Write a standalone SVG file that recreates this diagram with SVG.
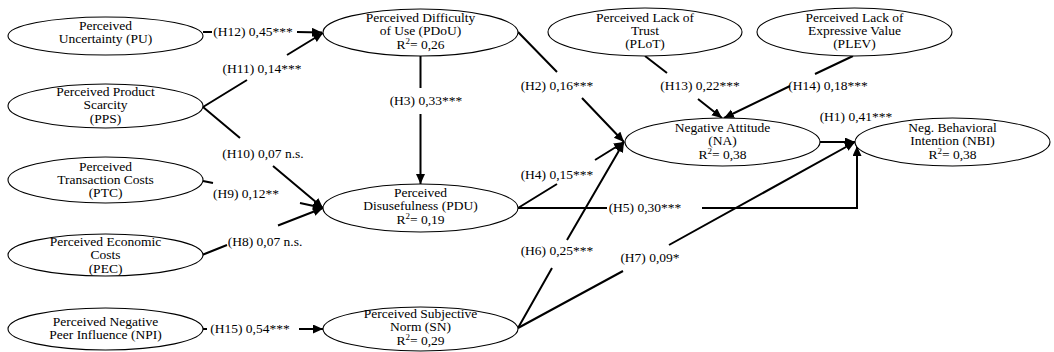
<svg xmlns="http://www.w3.org/2000/svg" width="1054" height="352" viewBox="0 0 1054 352">
<style>
text{font-family:"Liberation Serif","Times New Roman",serif;font-size:13.5px;fill:#000}
.n text{text-anchor:middle}
.n ellipse{fill:#fff;stroke:#000;stroke-width:1.1}
.c path{fill:none;stroke:#000;stroke-width:2;marker-end:url(#ah)}
.lbl text{text-anchor:middle}
.sup{font-size:9px}
</style>
<defs>
<marker id="ah" markerUnits="userSpaceOnUse" markerWidth="11" markerHeight="10" refX="10" refY="4.5" orient="auto">
<path d="M0,0 L10,4.5 L0,9 z" fill="#000"/>
</marker>
</defs>
<rect width="1054" height="352" fill="#fff"/>
<g id="connectors" class="c">
<path id="e-h12" d="M203,32 L212,32 M297,32 L322,32.5"/>
<path id="e-h11" d="M203,107 L247,80 M287,55 L323,33"/>
<path id="e-h10" d="M203,107 L240,138 M273,166 L323,208"/>
<path id="e-h9" d="M203,181 L213,183 M300,203 L323,208"/>
<path id="e-h8" d="M202,255 L227,245 M278,225.5 L323,208"/>
<path id="e-h15" d="M203,329 L207,329 M299,329 L323,329"/>
<path id="e-h3" d="M420.5,56 L420.5,88 M420.5,114 L420.5,184"/>
<path id="e-h2" d="M518,32 L557,72 M582,98 L624,142"/>
<path id="e-h4" d="M518,208 L557,184 M595,160 L624,142"/>
<path id="e-h5" d="M518,208 L607,208 M702,208 L857,208 L857,146"/>
<path id="e-h6" d="M518,328 L552,268 M567,240 L624,142"/>
<path id="e-h7" d="M518,328 L623,271 M669,245 L855,142"/>
<path id="e-h13" d="M645,56 L667,73 M698,99 L722,118"/>
<path id="e-h14" d="M853,56 L815,74 M790,86 L724,118"/>
<path id="e-h1" d="M820,142 L855,142"/>
</g>
<g id="labels" class="lbl">
<text x="253" y="36">(H12) 0,45***</text>
<text x="262" y="73">(H11) 0,14***</text>
<text x="263" y="158">(H10) 0,07 n.s.</text>
<text x="246" y="198">(H9) 0,12**</text>
<text x="265" y="246">(H8) 0,07 n.s.</text>
<text x="250" y="333">(H15) 0,54***</text>
<text x="426" y="105">(H3) 0,33***</text>
<text x="557" y="90">(H2) 0,16***</text>
<text x="557" y="179">(H4) 0,15***</text>
<text x="645" y="212">(H5) 0,30***</text>
<text x="557" y="255">(H6) 0,25***</text>
<text x="650" y="262">(H7) 0,09*</text>
<text x="700" y="90">(H13) 0,22***</text>
<text x="828" y="90">(H14) 0,18***</text>
<text x="856" y="121">(H1) 0,41***</text>
</g>
<g id="PU" class="n">
<ellipse cx="105.5" cy="36" rx="97.5" ry="19"/>
<text x="105.5" y="30">Perceived</text>
<text x="105.5" y="43">Uncertainty (PU)</text>
</g>
<g id="PPS" class="n">
<ellipse cx="105.5" cy="106" rx="97.5" ry="22"/>
<text x="105.5" y="96">Perceived Product</text>
<text x="105.5" y="109">Scarcity</text>
<text x="105.5" y="123">(PPS)</text>
</g>
<g id="PTC" class="n">
<ellipse cx="105.5" cy="180" rx="97.5" ry="23"/>
<text x="105.5" y="171">Perceived</text>
<text x="105.5" y="184">Transaction Costs</text>
<text x="105.5" y="197">(PTC)</text>
</g>
<g id="PEC" class="n">
<ellipse cx="105.5" cy="255" rx="97.5" ry="21"/>
<text x="105.5" y="246">Perceived Economic</text>
<text x="105.5" y="259">Costs</text>
<text x="105.5" y="273">(PEC)</text>
</g>
<g id="NPI" class="n">
<ellipse cx="105.5" cy="329" rx="97.5" ry="21"/>
<text x="105.5" y="326">Perceived Negative</text>
<text x="105.5" y="339">Peer Influence (NPI)</text>
</g>
<g id="PDoU" class="n">
<ellipse cx="420.5" cy="32.5" rx="97.5" ry="23.5"/>
<text x="420.5" y="22">Perceived Difficulty</text>
<text x="420.5" y="35">of Use (PDoU)</text>
<text x="420.5" y="49">R<tspan class="sup" dy="-5">2</tspan><tspan dy="5">= 0,26</tspan></text>
</g>
<g id="PDU" class="n">
<ellipse cx="420.5" cy="208" rx="97.5" ry="24"/>
<text x="420.5" y="197">Perceived</text>
<text x="420.5" y="210">Disusefulness (PDU)</text>
<text x="420.5" y="224">R<tspan class="sup" dy="-5">2</tspan><tspan dy="5">= 0,19</tspan></text>
</g>
<g id="SN" class="n">
<ellipse cx="420.5" cy="329" rx="97.5" ry="22"/>
<text x="420.5" y="318">Perceived Subjective</text>
<text x="420.5" y="331">Norm (SN)</text>
<text x="420.5" y="345">R<tspan class="sup" dy="-5">2</tspan><tspan dy="5">= 0,29</tspan></text>
</g>
<g id="PLoT" class="n">
<ellipse cx="645" cy="32" rx="97" ry="24"/>
<text x="645" y="22">Perceived Lack of</text>
<text x="645" y="35">Trust</text>
<text x="645" y="48">(PLoT)</text>
</g>
<g id="PLEV" class="n">
<ellipse cx="854.5" cy="32" rx="97.5" ry="24"/>
<text x="854.5" y="22">Perceived Lack of</text>
<text x="854.5" y="35">Expressive Value</text>
<text x="854.5" y="48">(PLEV)</text>
</g>
<g id="NA" class="n">
<ellipse cx="722.5" cy="142" rx="97.5" ry="24"/>
<text x="722.5" y="132">Negative Attitude</text>
<text x="722.5" y="145">(NA)</text>
<text x="722.5" y="159">R<tspan class="sup" dy="-5">2</tspan><tspan dy="5">= 0,38</tspan></text>
</g>
<g id="NBI" class="n">
<ellipse cx="952.5" cy="142" rx="97.5" ry="24"/>
<text x="952.5" y="132">Neg. Behavioral</text>
<text x="952.5" y="145">Intention (NBI)</text>
<text x="952.5" y="159">R<tspan class="sup" dy="-5">2</tspan><tspan dy="5">= 0,38</tspan></text>
</g>
</svg>
